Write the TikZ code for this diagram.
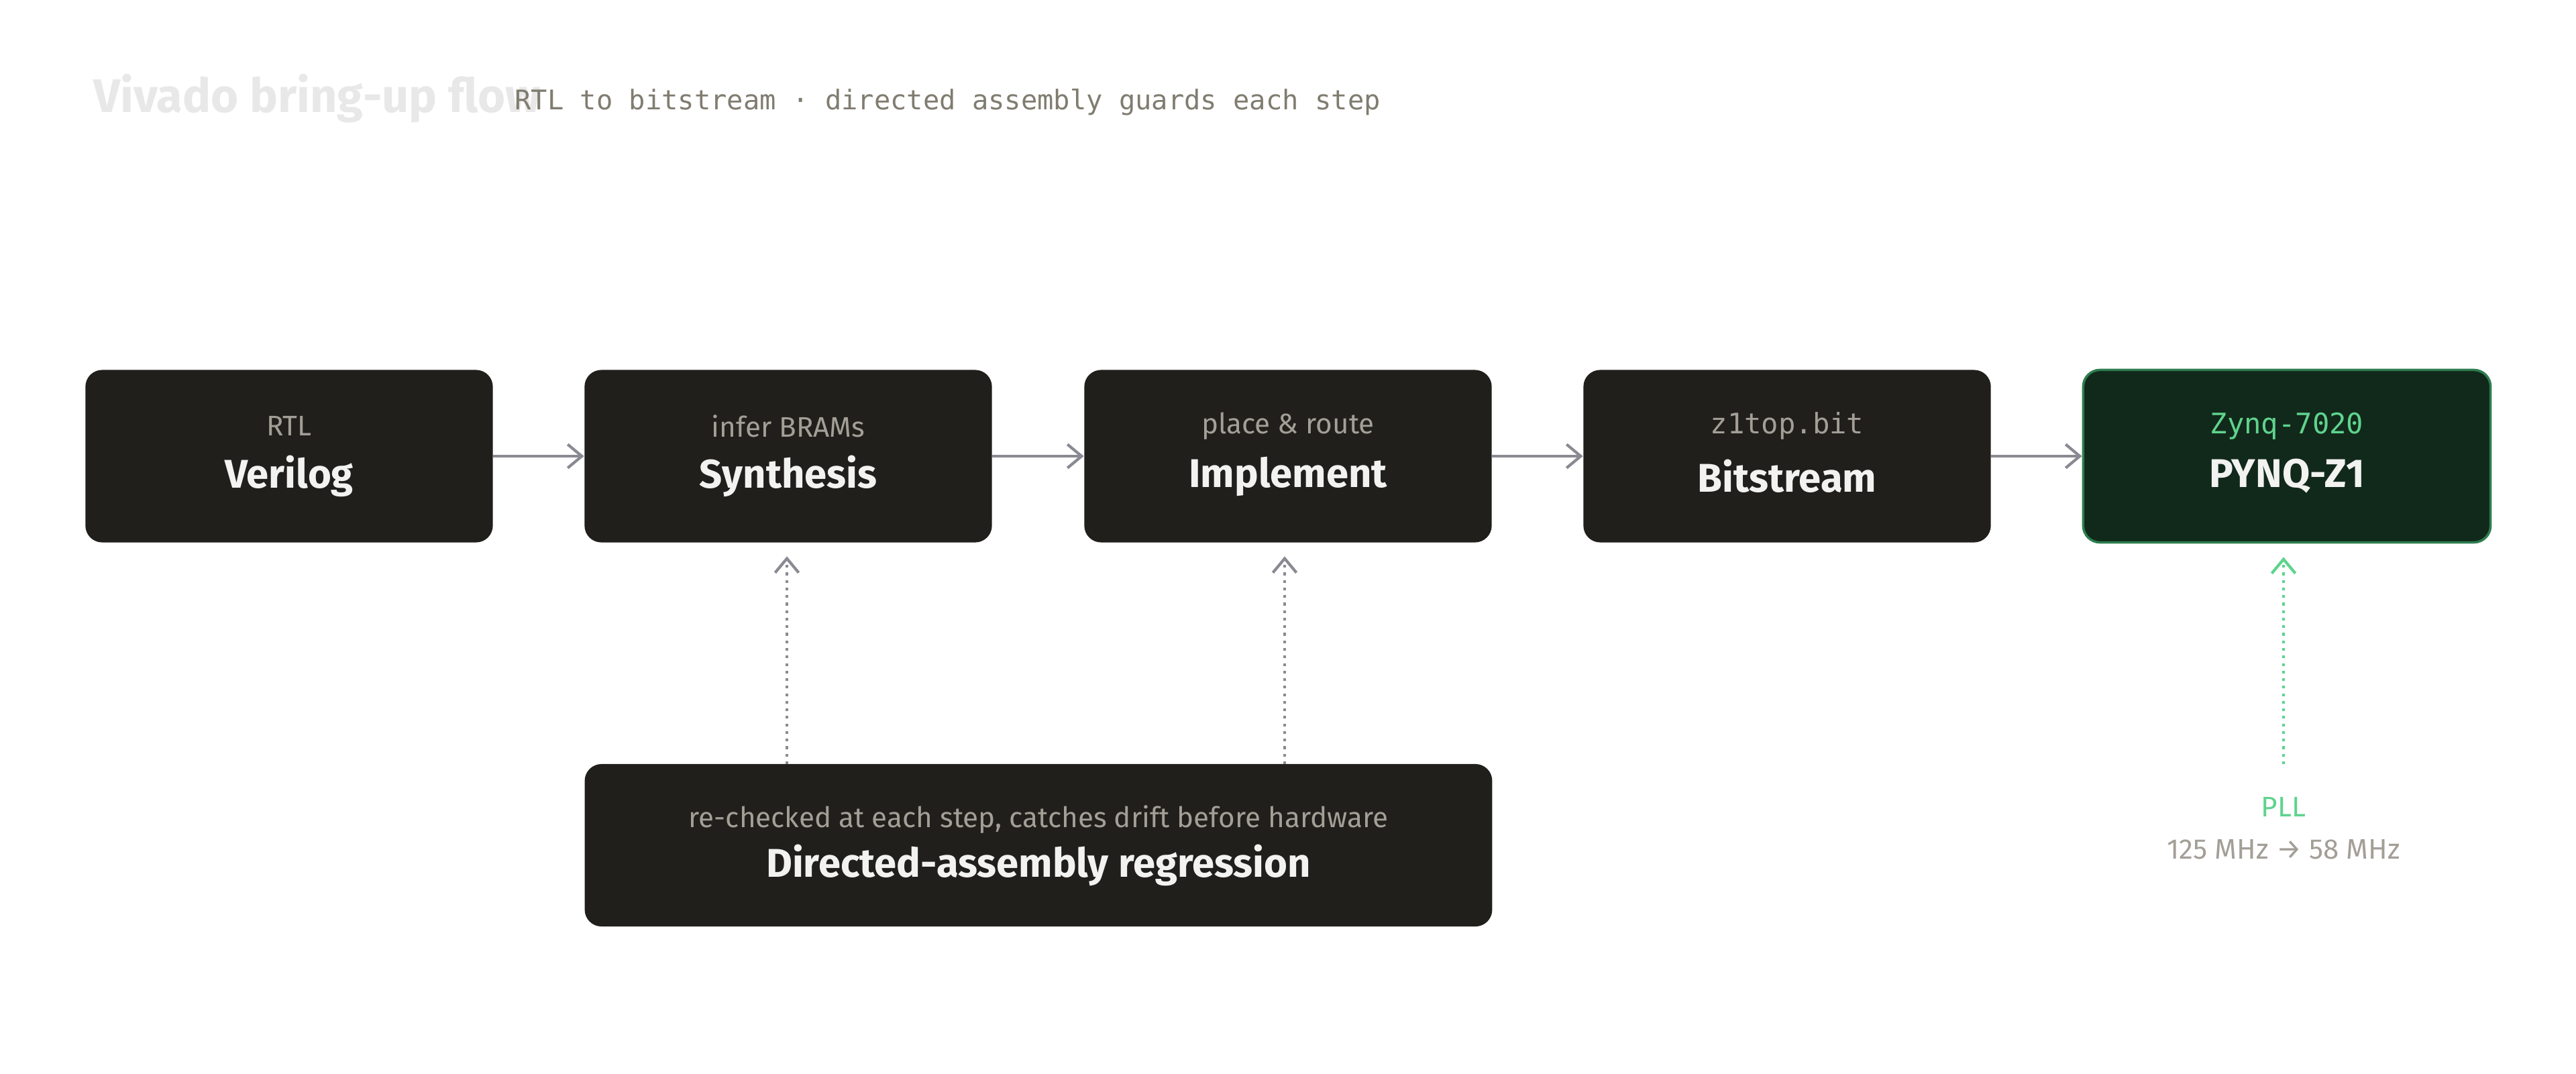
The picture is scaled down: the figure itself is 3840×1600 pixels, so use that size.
\documentclass[tikz,border=0pt]{standalone}
\usepackage{fontspec}
\setmainfont{Fira Sans}
\newfontfamily\monofont{DejaVu Sans Mono}
\usetikzlibrary{positioning,arrows.meta}
\definecolor{boxfill}{HTML}{201F1B}
\definecolor{boxtext}{HTML}{F2F2F0}
\definecolor{subtext}{HTML}{A39F97}
\definecolor{pynqfill}{HTML}{11291B}
\definecolor{pynqline}{HTML}{2E7D4F}
\definecolor{pllgreen}{HTML}{5FD38D}
\definecolor{wire}{HTML}{8A8A92}
\definecolor{titlegray}{HTML}{E8E8E8}
\definecolor{subtitlegray}{HTML}{807C70}

\begin{document}
\begin{tikzpicture}[x=0.01cm,y=-0.01cm,
    stage/.style={fill=boxfill,rounded corners=0.25cm,minimum width=6.07cm,minimum height=2.57cm,inner sep=0pt},
    head/.style={font=\fontsize{17}{20}\selectfont\bfseries,text=boxtext},
    flow/.style={draw=wire,line width=1.2pt,-{Straight Barb[length=6pt,width=10pt]}},
    guard/.style={draw=wire,line width=1.2pt,dotted,-{Straight Barb[length=6pt,width=10pt]}}]
  \useasboundingbox (0,0) rectangle (3840,1600);
  \node[anchor=west,text=titlegray,font=\fontsize{20}{24}\selectfont\bfseries] (title) at (127,147) {Vivado bring-up flow};
  \node[anchor=west,text=subtitlegray,font=\monofont\fontsize{11.5}{14}\selectfont] (subtitle) at (755,152) {RTL to bitstream · directed assembly guards each step};
  % pipeline
  \node[stage] (verilog) at (431,680) {};
  \node[stage] (synth) at (1175,680) {};
  \node[stage] (impl) at (1920,680) {};
  \node[stage] (bits) at (2664,680) {};
  \node[stage,fill=pynqfill,draw=pynqline,line width=1pt] (pynq) at (3409,680) {};
  \foreach \n/\h/\s/\f in {verilog/Verilog/RTL/\relax, synth/Synthesis/infer BRAMs/\relax,
      impl/Implement/place \& route/\relax, bits/Bitstream/z1top.bit/\monofont} {
    \node[head] at ([yshift=-0.3cm]\n.center) {\h};
    \node[text=subtext,font=\f\fontsize{12}{14}\selectfont] at ([yshift=0.45cm]\n.center) {\s};
  }
  \node[head] at ([yshift=-0.3cm]pynq.center) {PYNQ-Z1};
  \node[text=pllgreen,font=\monofont\fontsize{12}{14}\selectfont] at ([yshift=0.45cm]pynq.center) {Zynq-7020};
  \draw[flow] (verilog) -- (synth);
  \draw[flow] (synth) -- (impl);
  \draw[flow] (impl) -- (bits);
  \draw[flow] (bits) -- (pynq);
  % regression
  \node[stage,minimum width=13.52cm,minimum height=2.42cm] (regr) at (1548,1260) {};
  \node[head] at ([yshift=-0.3cm]regr.center) {Directed-assembly regression};
  \node[text=subtext,font=\fontsize{12}{14}\selectfont] at ([yshift=0.38cm]regr.center) {re-checked at each step, catches drift before hardware};
  \coordinate (synthin) at (1173,1139);
  \coordinate (implin) at (1915,1139);
  \draw[guard] (synthin) -- ([yshift=-0.2cm]synthin |- synth.south);
  \draw[guard] (implin) -- ([yshift=-0.2cm]implin |- impl.south);
  % clock
  \node[text=pllgreen,font=\fontsize{12}{14}\selectfont] (pll) at (3404,1203) {PLL};
  \node[text=subtext,font=\fontsize{12}{14}\selectfont] (freq) at (3404,1266) {125 MHz → 58 MHz};
  \coordinate (pllin) at (3404,1139);
  \draw[guard,draw=pllgreen] (pllin) -- ([yshift=-0.2cm]pllin |- pynq.south);
\end{tikzpicture}
\end{document}
